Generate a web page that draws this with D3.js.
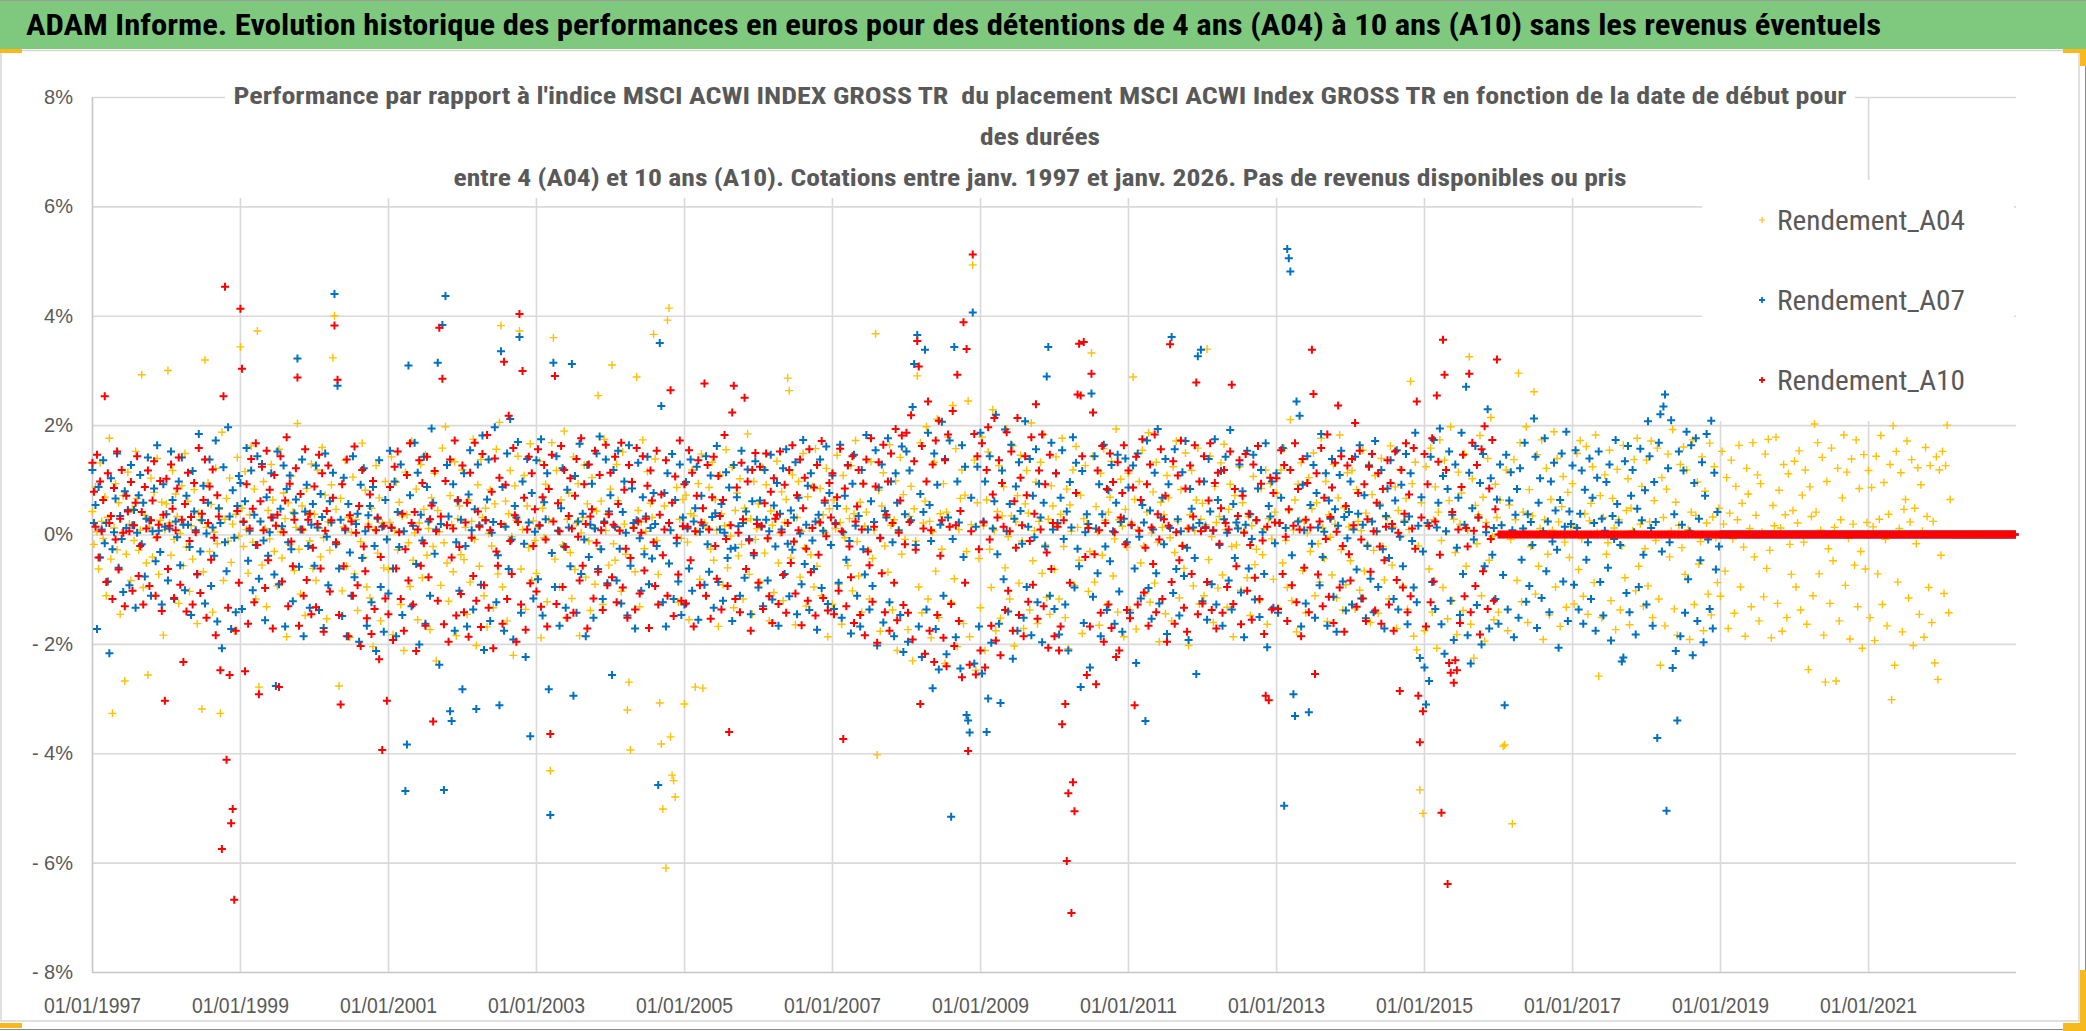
<!DOCTYPE html>
<html>
<head>
<meta charset="utf-8">
<script src="https://cdn.jsdelivr.net/npm/d3@7"></script>
<style>
  html, body { margin: 0; padding: 0; background: #fff; }
  svg { display: block; font-family: "Liberation Sans Narrow", "Roboto Condensed", "DejaVu Sans Condensed", "Liberation Sans", sans-serif; }
  text { white-space: pre; }
</style>
</head>
<body>
<div id="chart"></div>
<script>
const width = 2086;
const height = 1031;

const titre = "ADAM Informe. Evolution historique des performances en euros pour des détentions de 4 ans (A04) à 10 ans (A10) sans les revenus éventuels";
const sousTitre = [
  "Performance par rapport à l'indice MSCI ACWI INDEX GROSS TR  du placement MSCI ACWI Index GROSS TR en fonction de la date de début pour",
  "des durées",
  "entre 4 (A04) et 10 ans (A10). Cotations entre janv. 1997 et janv. 2026. Pas de revenus disponibles ou pris"
];
const series = ['Rendement_A04', 'Rendement_A07', 'Rendement_A10'];
const couleurs = ['#FFC000', '#0070C0', '#FF0000'];
const yTicks = [-8, -6, -4, -2, 0, 2, 4, 6, 8];
const xTicks = ['1997-01-01', '1999-01-01', '2001-01-01', '2003-01-01', '2005-01-01', '2007-01-01',
  '2009-01-01', '2011-01-01', '2013-01-01', '2015-01-01', '2017-01-01', '2019-01-01', '2021-01-01'];

// dates de début : 48 points par an à partir du 03/01/1997
const debut = new Date(1997, 0, 3);
const pasJours = 365.25 / 48;

// rendements en centièmes de % (ex. -83 = -0,83 %), une ligne par année de début
const a04 = [
  42,-18,87,5,-63,131,24,-7,68,-112,31,176, -45,-327,12,93,-28,58,-146,3,71,-268,-36,114, 19,-84,47,-11,152,66,-29,8,292,-97,35,-52, -257,14,103,-41,77,-6,139,-73,26,59,-184,9,
  56,300,21,-38,117,-9,74,33,-126,2,89,-57, 148,-23,61,-104,16,-45,82,7,-163,39,27,-319, -68,319,13,94,-31,55,-142,4,121,-17,46,-327, 187,-84,28,66,-12,103,-51,19,-176,37,141,-3,
  343,48,-22,115,9,-71,36,162,-14,83,-118,372, -279,24,-56,97,11,-132,44,-8,128,63,-31,17, -94,156,5,-43,76,29,-187,58,-18,107,41,-66, 13,203,-27,-109,52,8,-148,84,35,-12,129,-62,
  37,-84,118,12,-41,159,-6,72,-154,23,-29,91, 323,400,46,-17,-277,66,-103,14,136,-58,31,-188, 4,105,-72,27,-139,52,-13,167,-42,81,-96,19, -116,48,-205,9,126,-34,67,-158,21,-61,97,-8,
  -64,22,142,-183,7,96,-28,59,-128,34,-212,114, 36,-15,-95,171,-47,3,83,-156,21,128,-79,46, 146,-38,11,-174,67,-22,112,-231,44,5,-93,158, -15,197,-52,-122,71,18,-68,133,-185,29,52,-37,
  118,-46,13,-146,63,-87,24,174,-9,-203,91,-58, 137,31,-112,48,-169,2,82,-21,-134,56,156,-72, 205,382,-96,17,61,-158,38,117,-4,-221,89,26, 143,372,-63,9,108,-137,52,-24,166,-84,25,-11,
  -71,14,134,-189,48,-6,92,-123,27,-432,168,360, -45,117,8,-96,63,-19,189,-152,28,76,-33,-117, 142,-64,21,93,-185,3,31,127,-78,56,-12,-139, 104,12,-91,43,254,-26,61,-128,174,7,37,-56,
  83,310,-17,-47,128,62,9,-104,151,19,-36,-321, -270,-394,97,14,-68,288,44,-132,23,173,-26,6, 115,-91,57,31,366,138,-11,-73,-308,-383,-502,52, -610,392,414,-370,-440,-450,-480,86,-124,28,-7,64,
  -310,72,-14,-156,38,118,34,-279,5,93,-82,147, -281,21,-113,12,86,-27,132,-47,64,8,-168,109, 38,-92,16,155,-61,17,-3,123,-134,44,76,-39, 102,-18,-118,48,25,184,-73,29,-146,97,-9,11,
  56,-87,14,122,-34,91,-8,-158,43,17,-106,29, 134,-52,3,78,-121,22,64,286,263,-43,109,-14, -165,31,97,-78,6,148,-24,-131,69,12,-37,88, -96,157,-58,23,84,-112,36,4,121,-187,47,-19,
  -128,63,11,145,-91,22,-164,108,-6,47,-57,29, 126,-103,38,172,-13,-76,59,-142,94,15,41,-28, -118,133,-44,8,367,-403,81,-177,52,113,-21,33, -69,164,17,-138,27,98,-212,5,141,-36,73,-9,
  152,-174,33,88,-231,47,-12,290,-96,168,-143,21, 61,197,-118,24,-189,5,132,-67,211,-152,38,-27, 93,-236,41,178,14,-124,236,-81,157,-205,9,66, 118,-163,72,-31,244,-187,18,493,136,-248,58,-44,
  -134,178,16,-212,63,151,-27,-97,228,8,-176,42, 126,-153,34,87,-61,193,-4,-118,34,162,-204,23, 71,-89,145,-12,-172,56,117,39,-138,204,-48,7, 96,-163,24,132,-71,183,-19,-115,28,-146,89,52,
  -64,142,18,-118,37,176,-22,-152,83,-209,54,6, 118,-93,161,13,-47,72,-181,29,126,19,-104,-31, 332,143,-87,51,4,-166,112,-38,157,26,-129,41, 68,134,-76,-8,193,-142,27,101,15,-187,46,-23,
  112,-138,22,288,64,-173,9,97,-52,154,-21,-107, 41,186,-124,3,78,-89,132,-14,-196,59,13,36, -145,108,67,-6,-158,124,-33,171,24,-116,82,-19, -62,149,11,-203,36,117,-94,7,63,158,-127,28,
  57,-112,18,339,-46,143,-4,-161,88,22,-98,33, 131,-74,165,9,-133,46,92,-22,-187,71,-19,13, 124,-102,58,6,147,-79,33,-148,16,106,-55,-27, 162,-121,84,-37,11,118,-164,29,93,-8,-82,41,
  76,-134,21,118,-52,157,-11,-97,44,210,-121,8, 63,-178,92,26,131,-66,24,-143,3,104,-31,47, 149,-112,58,-17,-87,176,12,-44,97,-159,36,-5, -74,128,19,-116,67,182,-28,-138,49,-92,113,14,
  -48,117,12,-136,82,24,-102,7,154,-67,39,-18, 128,-161,73,-29,108,4,-144,56,139,-22,-83,31, 31,-118,162,-56,14,87,-172,44,119,-3,-94,26, 66,-137,9,280,93,-186,132,-211,-21,-467,58,-510,
  -176,124,16,-63,158,-142,27,87,-208,41,173,-11, -97,136,5,-154,62,197,-121,28,-33,-183,114,19, 76,-139,147,-58,8,325,-164,102,-226,53,-17,36, 181,-112,68,-195,22,139,-47,214,-4,-156,92,31,
  -142,63,18,-387,-385,118,-176,54,-9,-529,137,27, -84,295,168,-123,41,6,197,-161,82,-22,34,261, -109,146,-58,11,173,-192,27,121,-36,-147,64,8, 188,-96,139,23,-168,51,106,-14,-133,77,-42,15,
  93,-127,14,148,-64,172,-8,-113,38,161,-146,25, 57,124,-88,182,3,-259,71,-152,31,109,-36,-15, 154,-121,66,12,-174,119,27,-138,-21,163,-79,44, 102,-165,48,7,137,-103,176,-58,19,88,-131,-26,
  136,-94,23,171,-152,62,-11,158,-118,-239,104,31, -167,83,147,-41,6,192,-136,59,-184,17,128,-24, 160,-73,118,9,-192,41,173,-128,35,96,-54,-13, 142,-176,79,21,-109,167,-147,32,124,-6,-88,48,
  -113,152,19,-67,104,-172,39,136,-8,-144,88,27, 163,-96,57,-23,-186,121,74,11,-132,168,-41,35, 109,-158,93,4,-114,147,-62,174,-29,-189,53,16, 178,-126,81,12,-177,128,36,-152,111,-18,-73,44,
  134,-96,21,153,-138,72,-14,118,-164,-247,87,33, -112,202,41,168,-72,8,141,-184,-270,97,-26,-126, 158,-48,13,-268,121,-158,27,67,182,-93,114,-7, -191,138,19,-56,173,-132,84,-31,-208,146,-63,22,
  117,-152,86,14,-194,143,-72,28,181,-128,95,-9, -167,37,128,-302,199,-239,152,-87,11,113,-178,46, 64,171,-116,23,137,-203,48,-17,122,-146,91,6, -188,159,33,-97,126,-161,24,-235,142,-265,118,-38,
  152,-108,126,200,-143,64,0,0,0,0,0,0, 0,0,0,0,0,0,0,0,0,0,0,0, 0,0,0,0,0,0,0,0,0,0,0,0, 0,0,0,0,0,0,0,0,0,0,0,0
];

const a07 = [
  118,21,54,-173,87,-42,9,136,-16,21,-86,-217, 103,-27,4,66,148,-61,34,-8,-105,79,12,45, -93,127,17,45,-134,3,72,109,-18,58,-77,29, 141,26,-112,6,84,-49,163,7,-32,-128,92,14,
  37,-84,11,152,63,-118,24,-5,97,-56,141,18, -102,71,18,-23,-147,116,42,8,-73,184,-31,26, 89,-126,2,58,137,-94,13,-39,172,-159,48,21, -208,123,-14,-67,196,33,-173,81,-6,-142,52,107,
  94,-136,23,61,158,-48,7,117,-102,36,-19,143, -81,24,129,-11,-157,68,-39,4,112,31,-73,-277, 152,-91,47,15,126,-168,83,-14,108,-27,-122,39, 64,322,-59,9,137,-186,42,91,-21,-134,18,56,
  -57,126,13,-138,74,32,-171,148,-4,-93,61,22, 113,440,-18,272,-62,27,-149,104,8,-186,56,-33, -112,143,-78,19,38,-196,91,-43,121,6,-167,35, 52,-124,87,-21,-213,29,136,-96,14,-178,63,-9,
  -108,153,12,-62,97,-186,41,-23,128,-147,6,-469, -384,309,72,-131,16,168,-54,113,-201,36,-11,142, -163,87,24,-112,194,58,-35,9,314,-238,19,383, -467,436,127,33,-323,-341,92,-176,-14,61,-103,27,
  -283,112,-21,-168,73,154,8,-137,46,-319,128,17, -92,181,-211,26,64,137,-158,3,23,196,-124,-38, -312,335,87,-176,14,148,-63,211,-9,-192,52,31, 169,361,-143,97,-17,-224,138,22,-369,76,-117,5,
  136,-82,16,174,-148,59,28,112,-283,-513,-34,314, -96,143,7,-167,48,121,-22,-134,82,13,-58,312, -295,107,-143,24,166,-72,38,-9,-186,127,-41,18, 93,-152,11,148,-63,179,-27,-118,24,137,-89,42,
  72,-257,118,14,-84,153,-26,-126,41,97,3,-148, 163,-57,84,21,-172,26,131,-7,-103,68,-36,33, 142,-91,12,-44,76,19,-21,-458,350,235,-124,76, -168,112,-53,8,147,-118,63,-16,-86,128,-147,31,
  -128,96,11,-62,137,-103,24,48,124,-156,5,71, 17,-92,143,-18,-68,108,32,-134,39,162,-87,9, 56,-121,3,114,-43,86,-26,-158,127,-24,68,15, -112,153,21,-79,42,119,-8,-146,61,-38,134,27,
  -97,62,14,-131,118,27,-84,6,146,-119,53,-22, 94,-167,38,9,121,-72,156,-17,-113,44,-28,31, 132,-146,67,2,-91,173,-54,18,89,-138,112,-11, -63,24,-174,36,137,-98,7,58,161,-127,76,-19,
  108,-136,21,52,-88,164,-152,4,71,-46,127,-12, -181,93,146,16,-112,34,-168,118,-27,-73,182,9, -137,61,-94,23,154,-203,86,-6,128,-161,43,31, 176,-124,97,-14,-186,112,58,8,-147,161,-215,37,
  152,-196,117,26,233,312,-19,365,-168,74,-224,41, 338,-137,186,54,-12,-281,148,-173,91,-247,18,206, -112,138,-219,31,172,-516,-8,343,-188,97,22,-245, 163,-41,124,-330,-340,-362,67,406,-236,14,124,-168,
  186,-254,24,97,-361,-300,143,-198,11,61,219,-36, -163,-308,117,-82,192,6,-141,56,164,-227,29,88, -176,132,43,-17,-152,207,-96,14,138,-184,71,-5, 156,-124,93,31,-197,58,-22,289,343,-112,168,9,
  -136,112,21,-183,67,154,-8,-128,42,-212,96,13, 178,-97,131,-26,-58,-279,116,-162,4,37,19,-243, 258,-114,143,11,-71,92,-186,37,164,-22,-138,81, -49,127,6,-163,58,146,-104,23,-178,29,139,-14,
  86,-143,17,126,-62,-235,148,-4,-117,54,22,-341, 172,-98,44,-154,9,113,-71,193,-126,31,67,-18, 138,-182,92,12,361,-107,156,-63,28,-148,6,114, -76,171,-24,-193,83,47,13,-43,-255,326,21,338,
  -122,97,14,-156,138,42,-91,7,174,-128,63,-19, 116,-167,28,142,3,-84,191,-137,56,-43,22,11, 128,-106,79,-188,18,153,-62,37,-8,146,-119,26, 84,-151,118,4,-72,167,-206,52,33,97,-134,-16,
  112,-143,21,67,158,-496,12,522,505,481,-38,-292, -332,243,24,217,-168,91,8,-126,143,-325,54,-17, 127,-152,76,13,-93,184,-41,5,112,-167,62,29, 138,-114,46,-178,16,109,153,-86,32,-139,-7,41,
  97,-128,9,142,-64,38,163,-117,18,72,-153,-21, 126,-81,24,-142,171,6,-96,53,118,-27,-172,34, 84,-43,136,11,-118,62,154,-137,-4,91,-58,23, 147,-164,33,112,-12,-97,186,-124,16,-226,68,-31,
  -243,-311,21,-268,142,-87,173,-136,13,58,194,-164, 107,-218,6,83,152,-121,36,-193,128,-24,67,-147, 186,-72,18,270,-184,113,-236,48,-9,162,-129,31, 94,-201,147,-58,4,229,-172,103,-37,12,-118,64,
  -163,128,17,-74,-312,146,-137,62,114,8,-188,36, 83,-152,121,-46,11,168,-123,37,-94,23,-19,212, 142,-171,58,103,-116,6,176,-67,24,-142,97,-13, 131,44,-28,-207,63,148,-86,14,188,-158,42,19,
  126,-92,154,12,-137,38,117,-163,82,-46,-14,139, -118,67,21,-176,104,152,-87,29,-148,7,96,-61, 128,-194,34,-8,173,56,22,-19,-232,-225,134,-107, 162,-142,71,118,4,-183,47,-96,157,26,-37,81,
  -128,207,143,12,-167,96,23,-372,168,220,-31,234, 256,-505,121,-14,209,-244,37,-213,-340,152,-186,18, 117,-143,188,-82,6,163,-221,94,176,-158,29,-47, 132,-197,71,184,-9,-136,208,-172,113,-64,41,-22,
  0,0,0,0,0,0,0,0,0,0,0,0, 0,0,0,0,0,0,0,0,0,0,0,0, 0,0,0,0,0,0,0,0,0,0,0,0, 0,0,0,0,0,0,0,0,0,0,0,0,
  0,0,0,0,0,0,0,0,0,0,0,0, 0,0,0,0,0,0,0,0,0,0,0,0, 0,0,0,0,0,0,0,0,0,0,0,0, 0,0,0,0,0,0,0,0,0,0,0,0,
  0,0,0,0,0,0,0,0,0,0,0,0, 0,0,0,0,0,0,0,0,0,0,0,0, 0,0,0,0,0,0,0,0,0,0,0,0, 0,0,0,0,0,0,0,0,0,0,0,0,
  0,0,0,0,0,0,0,0,0,0,0,0, 0,0,0,0,0,0,0,0,0,0,0,0, 0,0,0,0,0,0,0,0,0,0,0,0, 0,0,0,0,0,0,0,0,0,0,0,0
];

const a10 = [
  131,78,14,146,-42,97,6,63,253,-87,112,21, 34,-118,85,-9,152,-64,29,118,3,-131,71,42, 6,96,-103,17,58,143,-76,-21,41,-128,87,11, 117,-94,26,62,134,-112,-5,18,98,-140,36,-304,
  102,-63,16,128,47,-116,8,84,141,-92,27,-233, 56,-141,113,-12,32,-128,94,4,-72,158,-107,38, 63,137,-152,21,88,-46,119,-6,-184,72,33,-248, -575,253,453,-412,-134,-257,-528,-502,-668,-176,43,-88,
  413,303,24,-250,92,-163,11,138,47,-124,167,-19, -292,61,124,8,-98,153,-47,82,31,-172,109,16, 36,-279,143,-86,4,62,178,-131,93,-13,-58,27, 121,287,-167,74,9,-112,156,-83,27,38,-146,-24,
  88,-133,19,146,-62,112,-178,7,43,126,-104,26, 67,382,-14,283,-147,-311,92,-58,11,137,-186,35, 24,-112,161,3,-93,52,-204,118,-22,-67,-153,14, 73,-182,98,-136,8,31,-228,-41,-394,16,-117,-304,
  -146,87,13,-193,124,-62,152,4,-118,38,-176,-27, 109,-84,167,21,-128,41,-213,9,136,-57,94,-16, -167,142,-78,28,53,-342,116,6,-121,378,33,285, -164,98,17,-196,137,-42,11,172,-148,63,-23,-109,
  126,-142,22,58,-187,113,-6,-76,168,-121,42,14, -169,147,-93,26,182,-134,8,78,-208,139,-31,-57, 104,19,-163,316,91,-118,217,-12,-72,158,35,-196, 23,403,-128,299,67,-174,9,142,-89,112,-21,46,
  -104,156,17,-132,68,127,-9,-168,83,-365,146,24, 290,-127,57,6,162,-96,118,-23,-152,34,103,11, -143,71,138,-4,-84,176,-57,92,19,-172,128,33, 46,-117,153,-15,-68,109,8,-138,21,164,-93,37,
  113,-78,18,142,-124,56,7,168,-97,82,-26,-152, 127,-43,96,12,-137,158,24,-108,3,143,-66,29, 89,-171,117,62,-14,-94,153,-128,36,73,-38,9, 136,-112,21,264,58,-149,106,-6,-73,172,-121,15,
  92,-126,14,154,-47,113,-168,6,71,136,-93,22, 48,276,-112,127,9,-154,68,142,-21,-81,107,34, -137,63,182,-8,-94,-361,17,223,272,-118,86,3, -142,131,28,250,-63,97,-11,-176,118,-34,149,19,
  -88,124,16,-136,57,148,-7,-113,78,-162,103,29, 36,-127,152,4,-74,91,-143,21,118,-52,163,-13, -108,72,8,137,-166,48,104,-26,-121,156,-69,12, 86,-148,127,-37,22,171,-116,62,-3,-139,94,31,
  112,-146,19,68,-103,157,6,-374,84,-131,126,-22, -78,143,-162,24,51,118,-147,9,93,-184,137,-31, -56,176,-123,14,88,-198,132,-7,-71,164,-142,36, 97,-176,148,21,-88,193,-157,3,62,181,-129,-18,
  186,-143,23,218,-192,134,-28,354,307,-310,162,11, -218,97,243,-176,8,128,-233,172,-147,208,-39,26, -189,136,-241,183,14,-127,226,-204,17,292,-158,43, -261,388,-88,339,-396,-238,6,512,184,-256,143,-27,
  -212,167,22,-243,118,196,-9,-167,73,213,-194,31, 136,-221,94,14,-138,187,-103,6,152,-176,61,-24, 213,-147,104,17,-186,143,72,-123,-12,178,-92,38, 238,-154,117,9,183,-131,92,-33,-207,146,-63,21,
  -186,112,14,-212,-168,-347,26,-310,-597,-473,-88,-692, -453,-506,76,256,349,254,143,352,-41,-257,12,-168, 294,223,-36,-274,117,8,-143,162,-196,21,83,-128, 148,-171,96,4,-224,132,-212,31,76,163,-18,-138,
  117,-153,18,86,-312,142,-128,7,63,174,-106,-24, 92,-167,128,13,-54,183,-142,37,-9,156,-118,28, 71,-196,16,348,-87,134,-163,4,108,-47,172,-21, -134,84,-178,11,126,-72,33,163,278,-146,97,6,
  -126,143,12,-87,62,167,-138,8,94,-172,113,-17, 48,-143,118,21,-96,9,152,274,-127,83,-58,34, 136,-164,71,3,147,-103,38,-19,-156,128,-79,26, 162,-118,93,-11,-182,-295,14,-303,104,-137,76,22,
  103,-136,21,154,-72,127,-4,-158,46,118,-93,16, 167,-124,83,9,-186,138,-61,27,94,-142,13,338, 257,-255,112,-73,24,158,-131,67,-8,183,-114,32, 86,-162,131,5,236,-97,143,-21,-178,52,126,-36,
  -84,138,17,204,-132,76,153,-9,-117,92,-158,28, 124,-68,147,6,-139,58,112,-22,-163,83,-47,14, 136,-128,94,19,-176,152,-83,3,-286,118,-97,38, 167,-142,73,-113,11,158,-26,243,-295,-380,31,-323,
  147,-168,92,16,-124,176,-86,24,254,133,-37,-509, 356,292,118,-639,-235,-253,41,-271,-230,-248,9,-162, 87,146,-113,12,-22,294,-142,168,7,-94,127,31, -183,156,-67,198,14,-136,84,-8,173,-121,46,320,
  0,0,0,0,0,0,0,0,0,0,0,0, 0,0,0,0,0,0,0,0,0,0,0,0, 0,0,0,0,0,0,0,0,0,0,0,0, 0,0,0,0,0,0,0,0,0,0,0,0,
  0,0,0,0,0,0,0,0,0,0,0,0, 0,0,0,0,0,0,0,0,0,0,0,0, 0,0,0,0,0,0,0,0,0,0,0,0, 0,0,0,0,0,0,0,0,0,0,0,0,
  0,0,0,0,0,0,0,0,0,0,0,0, 0,0,0,0,0,0,0,0,0,0,0,0, 0,0,0,0,0,0,0,0,0,0,0,0, 0,0,0,0,0,0,0,0,0,0,0,0,
  0,0,0,0,0,0,0,0,0,0,0,0, 0,0,0,0,0,0,0,0,0,0,0,0, 0,0,0,0,0,0,0,0,0,0,0,0, 0,0,0,0,0,0,0,0,0,0,0,0,
  0,0,0,0,0,0,0,0,0,0,0,0, 0,0,0,0,0,0,0,0,0,0,0,0, 0,0,0,0,0,0,0,0,0,0,0,0, 0,0,0,0,0,0,0,0,0,0,0,0,
  0,0,0,0,0,0,0,0,0,0,0,0, 0,0,0,0,0,0,0,0,0,0,0,0, 0,0,0,0,0,0,0,0,0,0,0,0, 0,0,0,0,0,0,0,0,0,0,0,0,
  0,0,0,0,0,0,0,0,0,0,0,0, 0,0,0,0,0,0,0,0,0,0,0,0, 0,0,0,0,0,0,0,0,0,0,0,0, 0,0,0,0,0,0,0,0,0,0,0,0
];

const valeurs = [a04, a07, a10];

const plot = { left: 92, right: 2016, top: 97, bottom: 972 };

const x = d3.scaleTime()
  .domain([new Date(1997, 0, 1), new Date(2023, 0, 1)])
  .range([plot.left, plot.right]);
const y = d3.scaleLinear()
  .domain([-8, 8])
  .range([plot.bottom, plot.top]);

const svg = d3.select('#chart').append('svg')
  .attr('width', width)
  .attr('height', height);

// cadre et bandeau de titre
svg.append('rect').attr('x', 0).attr('y', 0).attr('width', width).attr('height', height).attr('fill', '#fff');
svg.append('rect').attr('x', 0).attr('y', 1).attr('width', width).attr('height', 48).attr('fill', '#7FC97F');
svg.append('line').attr('x1', 0).attr('x2', width).attr('y1', 0.5).attr('y2', 0.5).attr('stroke', '#9a9a9a');
svg.append('rect').attr('x', 1).attr('y', 50.5).attr('width', 2078).attr('height', 970.5)
  .attr('fill', '#fff').attr('stroke', '#d6d6d6').attr('stroke-width', 1.5);
svg.append('line').attr('x1', 0).attr('x2', width).attr('y1', 1029.5).attr('y2', 1029.5).attr('stroke', '#8a8a8a');
svg.append('line').attr('x1', 2085.5).attr('x2', 2085.5).attr('y1', 49).attr('y2', height).attr('stroke', '#8a8a8a');

svg.append('text')
  .attr('x', 26).attr('y', 35)
  .attr('font-size', 30).attr('font-weight', 'bold').attr('fill', '#000')
  .attr('textLength', 1855).attr('lengthAdjust', 'spacingAndGlyphs')
  .text(titre);

// poignées de sélection
const poignees = [[0, 49, 22, 4], [2063, 49, 23, 4], [2080, 49, 6, 17], [0, 1023, 22, 5], [2080, 970, 6, 61], [2063, 1023, 23, 8]];
svg.selectAll('rect.poignee').data(poignees).join('rect')
  .attr('class', 'poignee')
  .attr('x', d => d[0]).attr('y', d => d[1]).attr('width', d => d[2]).attr('height', d => d[3])
  .attr('fill', '#F8B91C');

// grille
const axeY = svg.append('g')
  .attr('transform', `translate(${plot.left},0)`)
  .call(d3.axisLeft(y).tickValues(yTicks).tickSizeInner(-(plot.right - plot.left)).tickSizeOuter(0).tickPadding(19)
    .tickFormat(d => d < 0 ? '- ' + Math.abs(d) + '%' : d + '%'));
axeY.select('.domain').remove();
axeY.selectAll('line').attr('stroke', d => d === -8 ? '#c6c6c6' : '#d9d9d9').attr('stroke-width', 1.6);
axeY.selectAll('text').attr('font-size', 20).attr('fill', '#595959').attr('font-family', null);

const axeX = svg.append('g')
  .attr('transform', `translate(0,${plot.bottom})`)
  .call(d3.axisBottom(x).tickValues(xTicks.map(d => new Date(d + 'T00:00:00'))).tickSizeInner(-(plot.bottom - plot.top)).tickSizeOuter(0).tickPadding(25)
    .tickFormat(d3.timeFormat('%d/%m/%Y')));
axeX.select('.domain').remove();
axeX.selectAll('line').attr('stroke', (d, i) => i === 0 ? '#c6c6c6' : '#d9d9d9').attr('stroke-width', 1.6);
axeX.selectAll('text').attr('font-size', 22).attr('fill', '#595959').attr('font-family', null)
  .attr('textLength', 97).attr('lengthAdjust', 'spacingAndGlyphs');

// zones du titre et de la légende (fond blanc par-dessus la grille)
svg.append('rect').attr('x', 225).attr('y', 75).attr('width', 1630).attr('height', 123).attr('fill', '#fff');
svg.append('rect').attr('x', 1702).attr('y', 180).attr('width', 312).attr('height', 241).attr('fill', '#fff');

// points
const croix = s => `M${-s},0H${s}M0,${-s}V${s}`;
const epaisseur = [1.4, 2, 2];

valeurs.forEach((vals, k) => {
  const pts = vals.map((v, i) => ({ date: new Date(debut.getTime() + i * pasJours * 864e5), v: v / 100 }));
  svg.append('g')
    .selectAll('path')
    .data(pts)
    .join('path')
    .attr('transform', d => `translate(${x(d.date)},${y(d.v)})`)
    .attr('d', croix(4))
    .attr('fill', 'none')
    .attr('stroke', couleurs[k])
    .attr('stroke-width', epaisseur[k]);
});

// sous-titre
const largeursSousTitre = [1613, 120, 1173];
svg.append('g').selectAll('text')
  .data(sousTitre)
  .join('text')
  .attr('x', 1040)
  .attr('y', (d, i) => 104 + i * 41)
  .attr('text-anchor', 'middle')
  .attr('font-size', 24).attr('font-weight', 'bold').attr('fill', '#595959')
  .attr('textLength', (d, i) => largeursSousTitre[i]).attr('lengthAdjust', 'spacingAndGlyphs')
  .text(d => d);

// légende
const legende = svg.append('g')
  .selectAll('g')
  .data(series)
  .join('g')
  .attr('transform', (d, i) => `translate(1762,${220 + i * 80})`);
legende.append('path')
  .attr('d', croix(3))
  .attr('stroke', (d, i) => couleurs[i])
  .attr('stroke-width', (d, i) => i === 0 ? 1.2 : 1.8);
legende.append('text')
  .attr('x', 15).attr('y', 10)
  .attr('font-size', 28).attr('fill', '#595959')
  .attr('textLength', 188).attr('lengthAdjust', 'spacingAndGlyphs')
  .text(d => d);
</script>
</body>
</html>
